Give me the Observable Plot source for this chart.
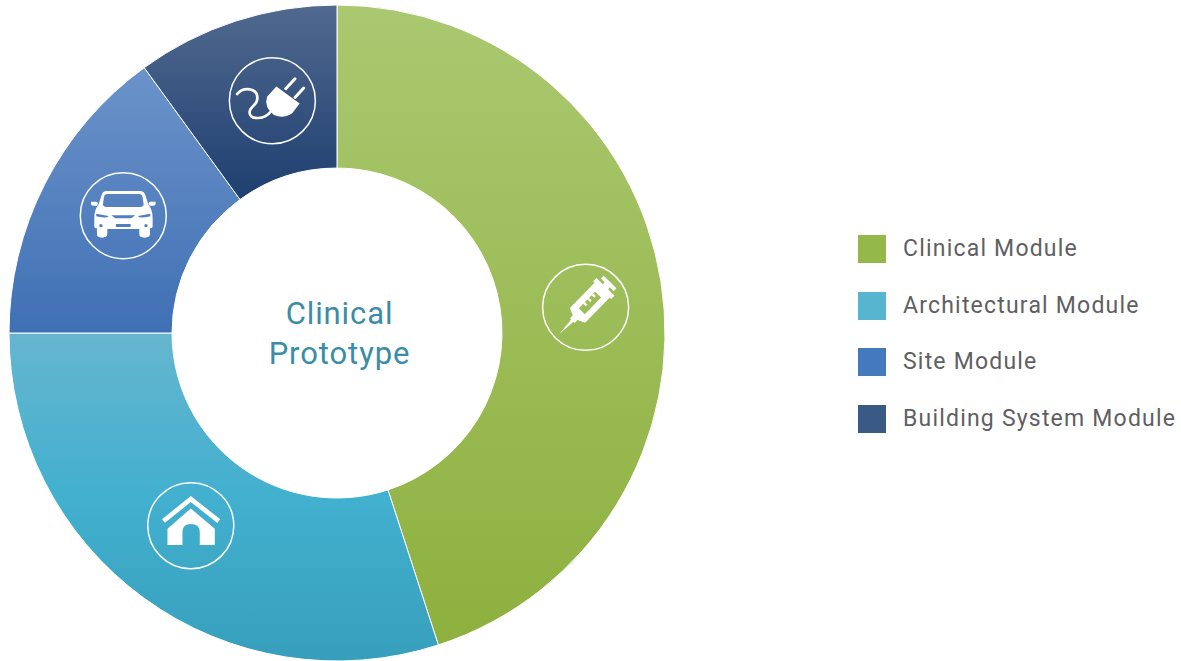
<!DOCTYPE html>
<html>
<head>
<meta charset="utf-8">
<script src="https://cdn.jsdelivr.net/npm/d3@7"></script>
<script src="https://cdn.jsdelivr.net/npm/@observablehq/plot@0.6"></script>
<style>
  html, body { margin: 0; padding: 0; background: #fff; width: 1181px; height: 661px; overflow: hidden; }
  #chart { position: relative; width: 1181px; height: 661px; }
  #chart svg { display: block; max-width: none; }
  #chart svg text { font-family: Roboto, sans-serif; letter-spacing: 0.9px; }
  #legend { position: absolute; left: 858px; top: 235px; font: 23px Roboto, sans-serif; letter-spacing: 1.2px; color: #5f6062; }
  #legend .row { display: flex; align-items: center; height: 28px; margin-bottom: 28.6px; white-space: nowrap; }
  #legend .row span { position: relative; top: -0.5px; }
  #legend .sw { width: 28px; height: 28px; margin-right: 17px; flex: none; }
</style>
</head>
<body>
<div id="chart"></div>
<script>
const categories = ["Clinical Module", "Architectural Module", "Site Module", "Building System Module"];
const shares = [45, 30, 15, 10];
const icons = ["syringe", "house", "car", "plug"];
// icon placement: percent round the ring, fraction of the outer radius
const iconTurn = [23.36, 60.33, 82.99, 95.68];
const iconRadius = [0.762, 0.7375, 0.7433, 0.735];
const holeRadius = 0.503;
const centerLabel = "Clinical\nPrototype";
const swatches = ["#95b84b", "#58b5d0", "#4379bd", "#3a5a85"];
const gradients = [
  ["#aac870", "#8eb03e"],
  ["#66b6cf", "#42b0cf", "#379fbc"],
  ["#6c93ca", "#3f70b4"],
  ["#51698f", "#1e3f70"]
];

let running = 0;
const rows = categories.map((name, i) => {
  const row = {name, start: running, end: running + shares[i], icon: icons[i], turn: iconTurn[i], radius: iconRadius[i], index: i};
  running = row.end;
  return row;
});

const glyphs = {
  syringe: `<g transform="translate(3.6,-4.3) rotate(-45.6)">
      <path fill="#fff" fill-rule="evenodd" d="M-118 0 L-62 -5 V-10 H-50 L-40 -32 H66 V-38 H80 V-11 H88 V-27 H100 V27 H88 V11 H80 V38 H66 V32 H-40 L-50 10 H-62 V5 Z
        M-22 -12 V13 H48 V-12 H40 V-1 H33 V-12 H22 V-1 H15 V-12 H4 V-1 H-3 V-12 Z"/>
    </g>`,
  house: `<g transform="translate(-158,-152)">
      <path fill="none" stroke="#fff" stroke-width="14" d="M76 138 L158 72 L242 138"/>
      <path fill="#fff" d="M88 210 V161 L158 100 L230 161 V210 H185 V172 Q185 147 158 147 Q133 147 133 172 V210 Z"/>
    </g>`,
  car: `<g transform="translate(-160,-152)">
      <path fill="#fff" fill-rule="evenodd" d="M110 78 H210 Q222 78 226 90 L235 118 Q248 135 248 158 V185 Q248 190 240 190 V208 Q240 218 224 218 Q208 218 208 208 V192 H112 V208 Q112 218 96 218 Q81 218 81 208 V190 Q73 190 73 185 V158 Q73 135 86 118 L95 90 Q98 78 110 78 Z
        M113 87 Q104 87 102 97 L99 118 Q99 126 110 126 H210 Q221 126 221 118 L218 97 Q216 87 207 87 Z
        M79 146 L116 153 L112 157 Q90 158 79 154 Z M241 146 L204 153 L208 157 Q230 158 241 154 Z
        M124 151 H196 L184 160 H136 Z M138 177 H182 V186 H138 Z
        M88 182 A5 5 0 1 0 98 182 A5 5 0 1 0 88 182 Z M223 182 A5 5 0 1 0 233 182 A5 5 0 1 0 223 182 Z"/>
      <path fill="#fff" d="M63 110 H78 Q84 110 84 116 L81 122 H70 Q63 122 63 116 Z M257 110 H242 Q236 110 236 116 L239 122 H250 Q257 122 257 116 Z"/>
    </g>`,
  plug: `<g transform="translate(-172,-152)">
      <path fill="none" stroke="#fff" stroke-width="8" stroke-linecap="round" d="M66 132 C85 110 128 112 127 145 C126 170 100 168 104 190 C108 210 150 208 166 186"/>
      <path fill="#fff" d="M184 109 L254 160 L232 189 Q206 208 177 195 Q146 172 156 140 Z"/>
      <path fill="none" stroke="#fff" stroke-width="9" stroke-linecap="round" d="M212 116 L240 86 M240 142 L266 114"/>
    </g>`
};

function ringCenter({width, height, marginLeft, marginRight, marginTop, marginBottom}) {
  return [marginLeft + (width - marginLeft - marginRight) / 2, marginTop + (height - marginTop - marginBottom) / 2];
}

function renderRing(index, scales, values, dimensions) {
  const [cx, cy] = ringCenter(dimensions);
  const root = d3.create("svg:g").attr("transform", `translate(${cx},${cy})`);
  const defs = root.append("defs");
  gradients.forEach((stops, i) => {
    const g = defs.append("linearGradient").attr("id", `slice${i}`).attr("x1", 0).attr("x2", 0).attr("y1", 0).attr("y2", 1);
    stops.forEach((c, j) => g.append("stop").attr("offset", j / (stops.length - 1)).attr("stop-color", c));
  });
  const arc = d3.arc();
  for (const i of index) {
    root.append("path")
      .attr("d", arc({startAngle: values.x1[i], endAngle: values.x2[i], innerRadius: values.y1[i], outerRadius: values.y2[i]}))
      .attr("fill", `url(#slice${i})`)
      .attr("stroke", "#fff")
      .attr("stroke-width", 1);
  }
  return root.node();
}

function renderIcons(index, scales, values, dimensions) {
  const [cx, cy] = ringCenter(dimensions);
  const root = d3.create("svg:g").attr("transform", `translate(${cx},${cy})`);
  for (const i of index) {
    const a = values.x[i], r = values.y[i];
    const g = root.append("g").attr("transform", `translate(${r * Math.sin(a)},${-r * Math.cos(a)})`);
    g.append("circle").attr("r", 43).attr("fill", "none").attr("stroke", "#fff").attr("stroke-width", 1.5);
    g.append("g").attr("transform", "scale(0.3333)").html(glyphs[rows[i].icon]);
  }
  return root.node();
}

const plot = Plot.plot({
  width: 1181,
  height: 661,
  marginTop: 5,
  marginBottom: 0,
  marginLeft: 0,
  marginRight: 507,
  style: {background: "transparent"},
  x: {domain: [0, 100], range: [0, 2 * Math.PI], axis: null},
  y: {domain: [0, 1], range: [0, 328], axis: null},
  marks: [
    Plot.rect(rows, {x1: "start", x2: "end", y1: () => holeRadius, y2: () => 1, render: renderRing}),
    Plot.dot(rows, {x: "turn", y: "radius", render: renderIcons}),
    Plot.text([centerLabel], {text: d => d, frameAnchor: "middle", dx: 2, dy: -2, fontSize: 31, lineHeight: 1.26, fill: "#3b8ca6"})
  ]
});
const chart = document.getElementById("chart");
chart.appendChild(plot);

const legend = document.createElement("div");
legend.id = "legend";
categories.forEach((name, i) => {
  const row = document.createElement("div");
  row.className = "row";
  const sw = document.createElement("div");
  sw.className = "sw";
  sw.style.background = swatches[i];
  const label = document.createElement("span");
  label.textContent = name;
  row.append(sw, label);
  legend.appendChild(row);
});
chart.appendChild(legend);
</script>
</body>
</html>
